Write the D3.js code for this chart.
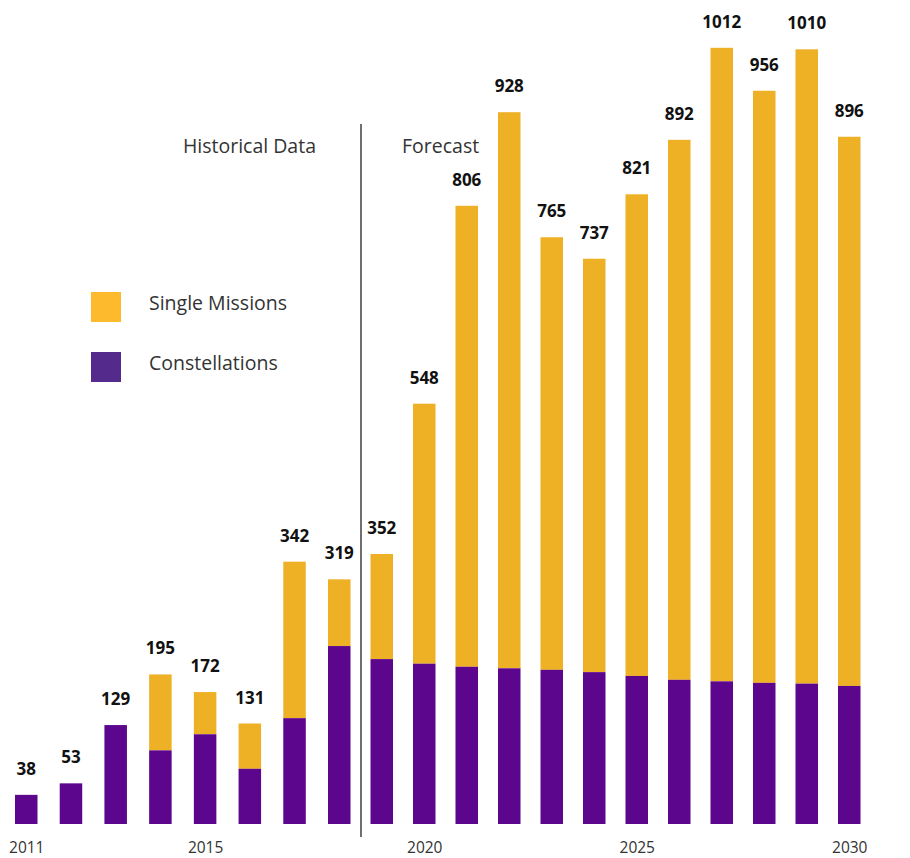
<!DOCTYPE html>
<html>
<head>
<meta charset="utf-8">
<script src="https://cdn.jsdelivr.net/npm/d3@7"></script>
<style>
  body { margin: 0; background: #fff; }
  svg { font-family: "Open Sans", sans-serif; }
</style>
</head>
<body>
<div id="chart"></div>
<script>
// data
var years = [2011, 2012, 2013, 2014, 2015, 2016, 2017, 2018, 2019, 2020,
             2021, 2022, 2023, 2024, 2025, 2026, 2027, 2028, 2029, 2030];
var totals = [38, 53, 129, 195, 172, 131, 342, 319, 352, 548,
              806, 928, 765, 737, 821, 892, 1012, 956, 1010, 896];
var constellations = [38, 53, 129, 96, 117, 72, 138, 232, 215, 209,
                      205, 203, 201, 198, 193, 188, 186, 184, 183, 180];
var tickYears = [2011, 2015, 2020, 2025, 2030];
var seriesNames = ["Single Missions", "Constellations"];

var width = 910, height = 858;
var barW = 22.5;

var svg = d3.select("#chart").append("svg")
    .attr("width", width)
    .attr("height", height);

// historical bars sit a bit wider apart than the forecast ones
var x = d3.scaleLinear()
    .domain([2011, 2018, 2030])
    .range([15, 328, 838]);

var y = d3.scaleLinear()
    .domain([0, 1000])
    .range([824, 57]);

var data = years.map(function(yr, i) {
    return { year: yr, total: totals[i], con: constellations[i] };
});

// single missions part (top)
svg.append("g").selectAll("rect")
    .data(data)
    .enter().append("rect")
    .attr("x", function(d) { return x(d.year); })
    .attr("width", barW)
    .attr("y", function(d) { return y(d.total); })
    .attr("height", function(d) { return y(d.con) - y(d.total); })
    .attr("fill", "#eeb024");

// constellations part (bottom)
svg.append("g").selectAll("rect")
    .data(data)
    .enter().append("rect")
    .attr("x", function(d) { return x(d.year); })
    .attr("width", barW)
    .attr("y", function(d) { return y(d.con); })
    .attr("height", function(d) { return y(0) - y(d.con); })
    .attr("fill", "#5b068c");

// value labels
svg.append("g").selectAll("text")
    .data(data)
    .enter().append("text")
    .attr("x", function(d) { return x(d.year) + barW / 2; })
    .attr("y", function(d) { return y(d.total) - 20; })
    .attr("text-anchor", "middle")
    .attr("font-size", 17)
    .attr("font-weight", "bold")
    .attr("fill", "#111")
    .text(function(d) { return d.total; });

// year axis
var axis = d3.axisBottom(x)
    .tickValues(tickYears)
    .tickFormat(d3.format("d"))
    .tickSize(0)
    .tickPadding(0);

svg.append("g")
    .attr("transform", "translate(" + barW / 2 + ",853)")
    .call(axis)
    .call(function(g) { g.select(".domain").remove(); })
    .selectAll("text")
    .attr("dy", "0")
    .attr("font-family", "Open Sans, sans-serif")
    .attr("font-size", 15.5)
    .attr("fill", "#333");

// divider between history and forecast
svg.append("line")
    .attr("x1", 361).attr("x2", 361)
    .attr("y1", 124).attr("y2", 837)
    .attr("stroke", "#222")
    .attr("stroke-width", 1.3);

svg.append("text")
    .attr("x", 316).attr("y", 153)
    .attr("text-anchor", "end")
    .attr("font-size", 19.5)
    .attr("fill", "#333")
    .text("Historical Data");

svg.append("text")
    .attr("x", 402).attr("y", 153)
    .attr("font-size", 19.5)
    .attr("fill", "#333")
    .text("Forecast");

// legend
var legendColors = ["#fcba2c", "#552a8d"];
var legend = svg.append("g").selectAll("g")
    .data(seriesNames)
    .enter().append("g")
    .attr("transform", function(d, i) { return "translate(91," + (292 + i * 60) + ")"; });

legend.append("rect")
    .attr("width", 30).attr("height", 30)
    .attr("fill", function(d, i) { return legendColors[i]; });

legend.append("text")
    .attr("x", 58).attr("y", 18)
    .attr("font-size", 19.5)
    .attr("fill", "#333")
    .text(function(d) { return d; });
</script>
</body>
</html>
